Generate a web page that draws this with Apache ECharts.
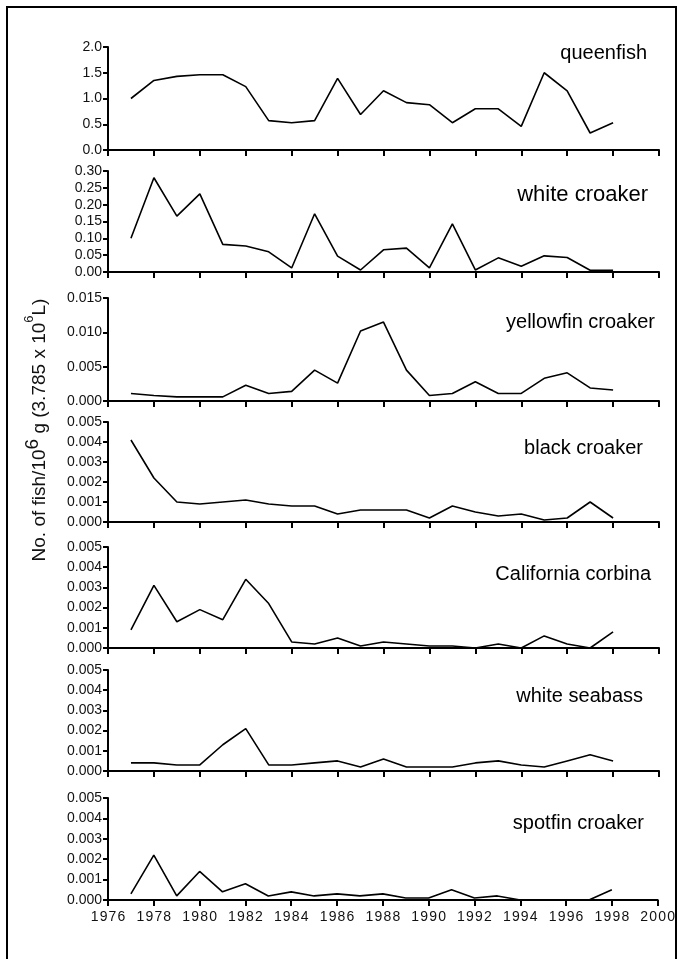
<!DOCTYPE html>
<html>
<head>
<meta charset="utf-8">
<script src="https://cdn.jsdelivr.net/npm/echarts@6/dist/echarts.min.js"></script>
<style>
  html, body { margin: 0; padding: 0; background: #fff; }
  #chart { width: 678px; height: 959px; }
</style>
</head>
<body>
<div id="chart"></div>
<script>
var years = [1977, 1978, 1979, 1980, 1981, 1982, 1983, 1984, 1985, 1986, 1987,
             1988, 1989, 1990, 1991, 1992, 1993, 1994, 1995, 1996, 1997, 1998]
var species = ['queenfish', 'white croaker', 'yellowfin croaker', 'black croaker',
               'California corbina', 'white seabass', 'spotfin croaker']

var queenfish = [1.00, 1.35, 1.43, 1.46, 1.46, 1.23, 0.57, 0.53, 0.57, 1.39, 0.69,
                 1.15, 0.92, 0.88, 0.53, 0.80, 0.80, 0.46, 1.50, 1.15, 0.33, 0.53]
var whiteCroaker = [0.100, 0.280, 0.166, 0.232, 0.082, 0.077, 0.060, 0.012, 0.173, 0.047, 0.006,
                    0.066, 0.071, 0.012, 0.143, 0.006, 0.042, 0.017, 0.048, 0.043, 0.005, 0.005]
var yellowfinCroaker = [0.0011, 0.0008, 0.0006, 0.0006, 0.0006, 0.0023, 0.0011, 0.0014, 0.0045, 0.0026, 0.0102,
                        0.0115, 0.0045, 0.0008, 0.0011, 0.0028, 0.0011, 0.0011, 0.0033, 0.0041, 0.0019, 0.0016]
var blackCroaker = [0.0041, 0.0022, 0.0010, 0.0009, 0.0010, 0.0011, 0.0009, 0.0008, 0.0008, 0.0004, 0.0006,
                    0.0006, 0.0006, 0.0002, 0.0008, 0.0005, 0.0003, 0.0004, 0.0001, 0.0002, 0.0010, 0.0002]
var californiaCorbina = [0.0009, 0.0031, 0.0013, 0.0019, 0.0014, 0.0034, 0.0022, 0.0003, 0.0002, 0.0005, 0.0001,
                         0.0003, 0.0002, 0.0001, 0.0001, 0.0000, 0.0002, 0.0000, 0.0006, 0.0002, 0.0000, 0.0008]
var whiteSeabass = [0.0004, 0.0004, 0.0003, 0.0003, 0.0013, 0.0021, 0.0003, 0.0003, 0.0004, 0.0005, 0.0002,
                    0.0006, 0.0002, 0.0002, 0.0002, 0.0004, 0.0005, 0.0003, 0.0002, 0.0005, 0.0008, 0.0005]
var spotfinCroaker = [0.0003, 0.0022, 0.0002, 0.0014, 0.0004, 0.0008, 0.0002, 0.0004, 0.0002, 0.0003, 0.0002,
                      0.0003, 0.0001, 0.0001, 0.0005, 0.0001, 0.0002, 0.0000, 0.0000, 0.0000, 0.0000, 0.0005]

// y axis ranges per panel
var yMax = [2.0, 0.30, 0.015, 0.005, 0.005, 0.005, 0.005]
var yStep = [0.5, 0.05, 0.005, 0.001, 0.001, 0.001, 0.001]
var yDigits = [1, 2, 3, 3, 3, 3, 3]
var xTicks = [1976, 2000, 2]

var values = [queenfish, whiteCroaker, yellowfinCroaker, blackCroaker,
              californiaCorbina, whiteSeabass, spotfinCroaker]

// layout (pixels)
var panelTop = [47, 171, 298, 422, 547, 670, 798]
var panelBottom = [150, 272, 401, 522, 648, 771, 900]
var labelY = [55, 197, 324, 450, 576, 698, 825]
var labelRight = [647, 648, 655, 643, 651, 643, 644]
var labelSize = [20, 22, 20, 20, 20, 20, 20]
var plotLeft = 108
var plotRight = 659

var font = 'Liberation Sans, Arial, sans-serif'
var chart = echarts.init(document.getElementById('chart'))

var grids = [], xAxes = [], yAxes = [], series = [], texts = []
species.forEach(function (name, i) {
    var last = i === species.length - 1
    grids.push({
        left: plotLeft,
        width: plotRight - plotLeft,
        top: panelTop[i],
        height: panelBottom[i] - panelTop[i]
    })
    xAxes.push({
        type: 'value',
        gridIndex: i,
        min: xTicks[0],
        max: xTicks[1],
        interval: xTicks[2],
        axisLine: {lineStyle: {color: '#000', width: 2}},
        axisTick: {show: true, length: 6, lineStyle: {color: '#000', width: 2}},
        axisLabel: {
            show: last,
            color: '#111',
            fontFamily: font,
            fontSize: 14,
            margin: 10,
            // slight letter spacing like the original
            formatter: function (v) { return String(v).split('').join('\u200A') }
        },
        splitLine: {show: false}
    })
    yAxes.push({
        type: 'value',
        gridIndex: i,
        min: 0,
        max: yMax[i],
        interval: yStep[i],
        axisLine: {show: true, lineStyle: {color: '#000', width: 2}},
        axisTick: {show: true, length: 5, lineStyle: {color: '#000', width: 2}},
        axisLabel: {
            color: '#111',
            fontFamily: font,
            fontSize: 14,
            margin: 6,
            formatter: function (v) { return v.toFixed(yDigits[i]) }
        },
        splitLine: {show: false}
    })
    series.push({
        type: 'line',
        xAxisIndex: i,
        yAxisIndex: i,
        symbol: 'none',
        lineStyle: {color: '#000', width: 1.6},
        data: years.map(function (y, k) { return [y, values[i][k]] })
    })
    texts.push({
        type: 'text',
        right: 678 - labelRight[i],
        top: labelY[i] - labelSize[i] * 0.6,
        style: {
            text: name,
            fill: '#000',
            font: labelSize[i] + 'px ' + font
        }
    })
})

texts.push({
    type: 'rect',
    shape: {x: 7, y: 7, width: 669, height: 1000},
    style: {fill: 'none', stroke: '#000', lineWidth: 2},
    silent: true
})
texts.push({
    type: 'text',
    x: 40,
    y: 430,
    rotation: Math.PI / 2,
    style: {
        text: '{a|No. of fish/10}{b|6}{a| g (3.785 x 10}{c|6}{a|L)}',
        align: 'center',
        verticalAlign: 'middle',
        fill: '#111',
        rich: {
            a: {fontSize: 19, fontFamily: font, lineHeight: 34, verticalAlign: 'middle'},
            b: {fontSize: 19, fontFamily: font, verticalAlign: 'top'},
            c: {fontSize: 13, fontFamily: font, verticalAlign: 'top'}
        }
    }
})

chart.setOption({
    animation: false,
    backgroundColor: '#fff',
    grid: grids,
    xAxis: xAxes,
    yAxis: yAxes,
    series: series,
    graphic: texts
})
</script>
</body>
</html>
